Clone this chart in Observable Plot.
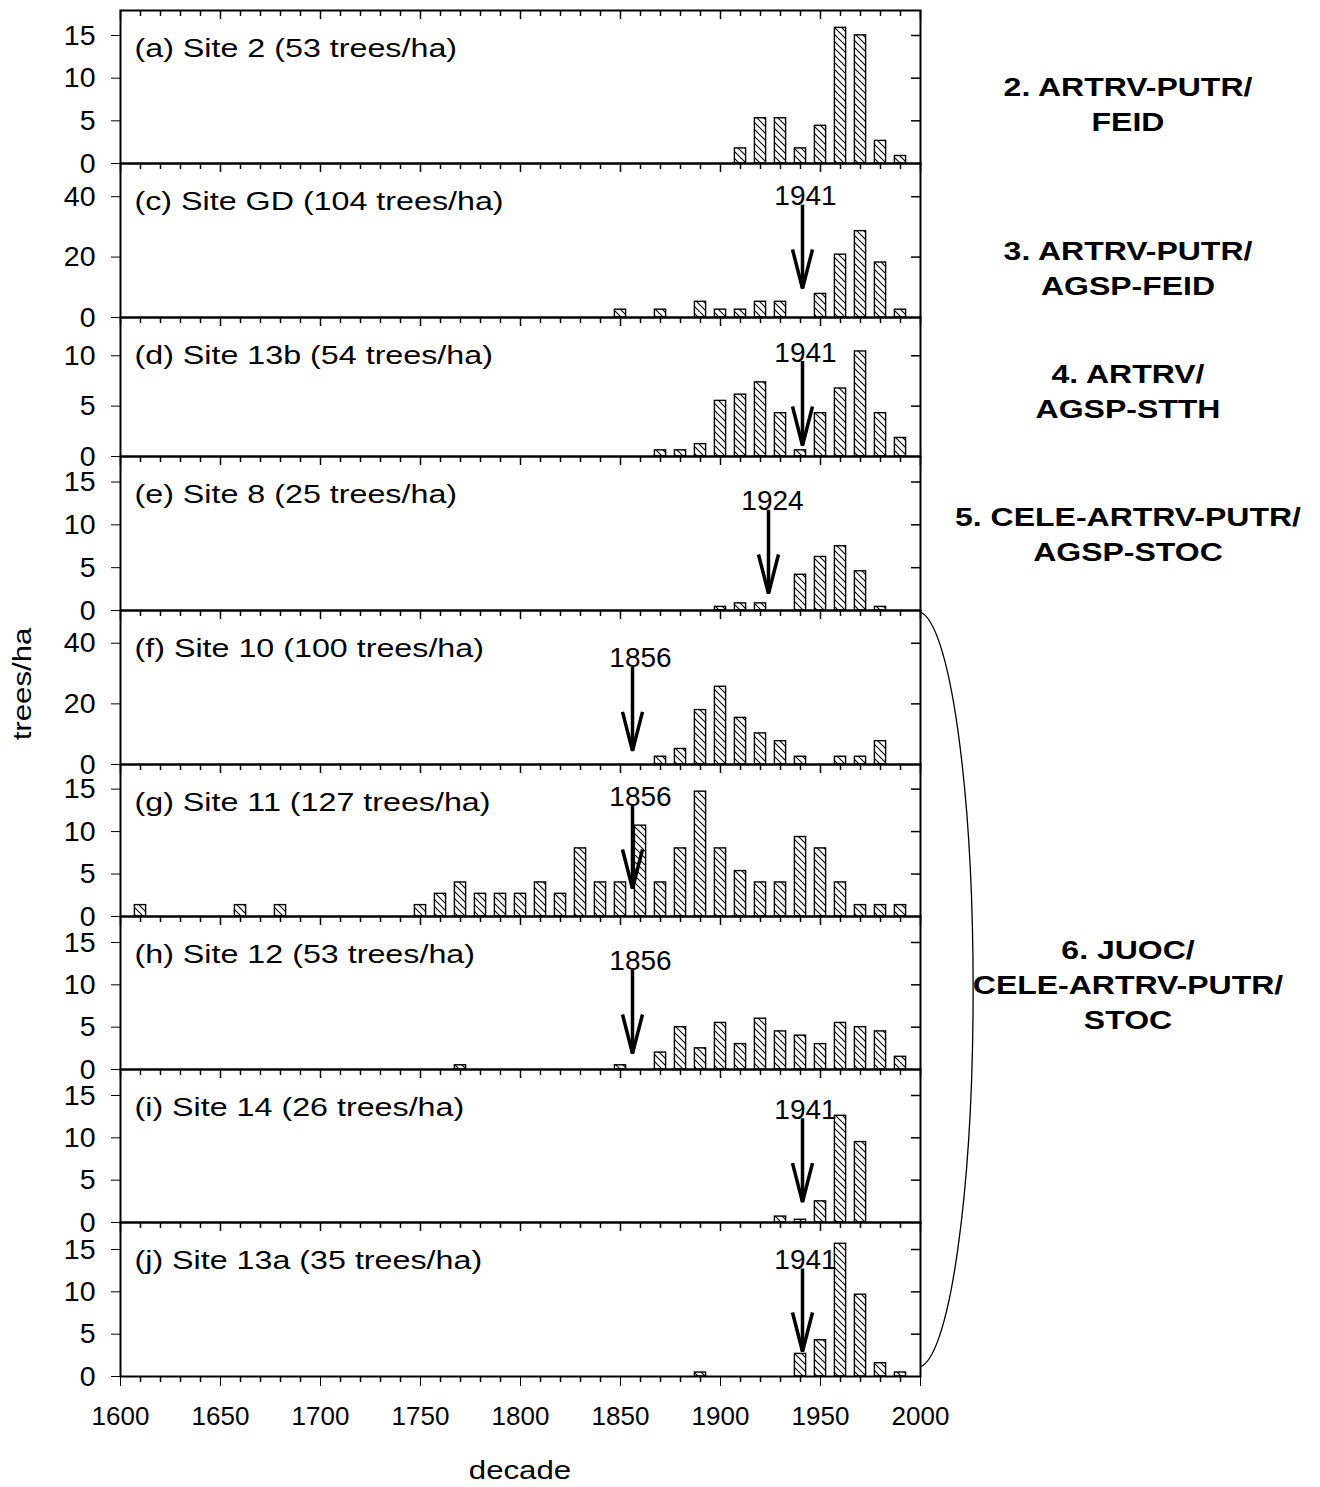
<!DOCTYPE html>
<html><head><meta charset="utf-8">
<script src="https://cdn.jsdelivr.net/npm/d3@7"></script>
<script src="https://cdn.jsdelivr.net/npm/@observablehq/plot@0.6"></script>
<style>
body{margin:0;background:#fff;}
#wrap{position:relative;width:1320px;height:1487px;background:#fff;font-family:"Liberation Sans",Arial,sans-serif;overflow:hidden;color:#000}
.panel{position:absolute;left:0}
.rlab{position:absolute;width:400px;margin-left:-200px;font-weight:bold;font-size:26px;line-height:35px;text-align:center;white-space:nowrap;transform:scaleX(1.23);transform-origin:center;}
.atitle{position:absolute;font-size:26px;white-space:nowrap;}
</style></head><body>
<svg width="0" height="0" style="position:absolute"><defs>
<pattern id="hatch" patternUnits="userSpaceOnUse" width="7" height="7">
<path d="M0,0 L7,7 M6,-1 L8,1 M-1,6 L1,8" stroke="black" stroke-width="1.1" fill="none"/>
</pattern></defs></svg>
<div id="wrap"></div>
<script>
// ---------------- data ----------------
const siteLabels = [
  "(a) Site 2 (53 trees/ha)",
  "(c) Site GD (104 trees/ha)",
  "(d) Site 13b (54 trees/ha)",
  "(e) Site 8 (25 trees/ha)",
  "(f) Site 10 (100 trees/ha)",
  "(g) Site 11 (127 trees/ha)",
  "(h) Site 12 (53 trees/ha)",
  "(i) Site 14 (26 trees/ha)",
  "(j) Site 13a (35 trees/ha)"
];
const decadesA = [1910,1920,1930,1940,1950,1960,1970,1980,1990];
const treesA   = [1.77,5.3,5.3,1.77,4.42,15.9,15.02,2.65,0.88];
const decadesC = [1850,1870,1890,1900,1910,1920,1930,1950,1960,1970,1980,1990];
const treesC   = [2.6,2.6,5.2,2.6,2.6,5.2,5.2,7.8,20.8,28.6,18.2,2.6];
const decadesD = [1870,1880,1890,1900,1910,1920,1930,1940,1950,1960,1970,1980,1990];
const treesD   = [0.61,0.61,1.23,5.52,6.14,7.36,4.3,0.61,4.3,6.75,10.43,4.3,1.84];
const decadesE = [1900,1910,1920,1940,1950,1960,1970,1980];
const treesE   = [0.42,0.83,0.83,4.17,6.25,7.5,4.58,0.42];
const decadesF = [1870,1880,1890,1900,1910,1920,1930,1940,1960,1970,1980];
const treesF   = [2.56,5.13,17.95,25.64,15.38,10.26,7.69,2.56,2.56,2.56,7.69];
const decadesG = [1610,1660,1680,1750,1760,1770,1780,1790,1800,1810,1820,1830,1840,1850,1860,1870,1880,1890,1900,1910,1920,1930,1940,1950,1960,1970,1980,1990];
const treesG   = [1.34,1.34,1.34,1.34,2.67,4.01,2.67,2.67,2.67,4.01,2.67,8.02,4.01,4.01,10.7,4.01,8.02,14.7,8.02,5.35,4.01,4.01,9.36,8.02,4.01,1.34,1.34,1.34];
const decadesH = [1770,1850,1870,1880,1890,1900,1910,1920,1930,1940,1950,1960,1970,1980,1990];
const treesH   = [0.5,0.5,2,5,2.5,5.5,3,6,4.5,4,3,5.5,5,4.5,1.5];
const decadesI = [1930,1940,1950,1960,1970];
const treesI   = [0.7,0.32,2.5,12.6,9.5];
const decadesJ = [1890,1940,1950,1960,1970,1980,1990];
const treesJ   = [0.47,2.67,4.28,15.67,9.66,1.57,0.47];

const yMaxes = [17.93, 51, 13.8, 17.98, 50.8, 17.9, 18.07, 18.07, 18.19];
const yTickSets = [[0,5,10,15],[0,20,40],[0,5,10],[0,5,10,15],[0,20,40],[0,5,10,15],[0,5,10,15],[0,5,10,15],[0,5,10,15]];

// establishment arrows: panel index, year, tip value, tail value, label x (year)
const arrowPanels = [1,2,3,4,5,6,7,8];
const arrowYears  = [1941,1941,1924,1856,1856,1856,1941,1941];
const arrowTips   = [9.6,1.09,1.98,4.5,3.3,1.89,2.4,2.95];
const arrowTails  = [37.2,9.43,11.7,32,13.0,11.7,12.25,12.7];
const labelYears  = [1942.5,1942.5,1926,1860,1860,1860,1942.5,1942.5];

const xTickLabels = [1600,1650,1700,1750,1800,1850,1900,1950,2000];
const groupLabels = [
  ["2. ARTRV-PUTR/","FEID"],
  ["3. ARTRV-PUTR/","AGSP-FEID"],
  ["4. ARTRV/","AGSP-STTH"],
  ["5. CELE-ARTRV-PUTR/","AGSP-STOC"],
  ["6. JUOC/","CELE-ARTRV-PUTR/","STOC"]
];

// ---------------- layout ----------------
const decadeSets = [decadesA,decadesC,decadesD,decadesE,decadesF,decadesG,decadesH,decadesI,decadesJ];
const valueSets  = [treesA,treesC,treesD,treesE,treesF,treesG,treesH,treesI,treesJ];
const panelEdges = [10,163,317,456,610,764,916,1069,1222,1376];
const groupLabelY = [87,251,374,517,950];
const allDecades = d3.range(1600, 2001, 10);
const minorDecades = allDecades.filter(d => d % 50 !== 0);
const majorDecades = allDecades.filter(d => d % 50 === 0);

const arrows = arrowPanels.map((p,i) => ({panel:p, year:arrowYears[i], tip:arrowTips[i], tail:arrowTails[i], lx:labelYears[i]}));
const arrowHead = {draw(ctx){ ctx.moveTo(-10,-39); ctx.lineTo(0,0); ctx.lineTo(10,-39); }};

const wrap = document.getElementById("wrap");
const FONT = "'Liberation Sans', Arial, sans-serif";

function stretch(svg, pred, factor){
  svg.querySelectorAll("text").forEach(t => {
    if (!pred(t)) return;
    const len = t.getComputedTextLength();
    if (len > 0) { t.setAttribute("textLength", len*factor); t.setAttribute("lengthAdjust","spacingAndGlyphs"); }
  });
}

for (let k = 0; k < 9; k++) {
  const last = k === 8;
  const innerH = panelEdges[k+1] - panelEdges[k];
  const innerW = 800;
  const mt = 12, mb = last ? 100 : 12;
  const data = decadeSets[k].map((d,i) => ({decade:d, value:valueSets[k][i]}));
  const arr = arrows.filter(a => a.panel === k);
  const marks = [
    Plot.rect(data, {x1: d => d.decade - 2.8, x2: d => d.decade + 2.8, y1: 0, y2: "value", fill: "url(#hatch)", stroke: "black", strokeWidth: 1.4}),
    Plot.tickX(minorDecades, {x: d => d, insetBottom: innerH - 6, stroke: "black", strokeWidth: 1.5}),
    Plot.tickX(majorDecades, {x: d => d, insetBottom: innerH - 9, stroke: "black", strokeWidth: 1.5}),
    Plot.tickY(yTickSets[k].filter(v => v > 0), {y: d => d, insetLeft: innerW - 9, stroke: "black", strokeWidth: 1.5}),
    Plot.frame({stroke: "black", strokeWidth: 2}),
    Plot.text([siteLabels[k]], {text: d => d, frameAnchor: "top-left", textAnchor: "start", lineAnchor: "top", dx: 14, dy: 28, fontSize: 26, fill: "black"}),
    Plot.ruleX(arr, {x: "year", y1: "tip", y2: "tail", stroke: "black", strokeWidth: 3.5}),
    Plot.dot(arr, {x: "year", y: "tip", symbol: arrowHead, r: 5, stroke: "black", fill: "none", strokeWidth: 3.5}),
    Plot.text(arr, {x: "lx", y: "tail", text: d => String(d.year), lineAnchor: "bottom", fontSize: 28, fill: "black"})
  ];
  if (last) marks.push(Plot.tickX(minorDecades, {x: d => d, insetTop: innerH - 6, dy: 6, stroke: "black", strokeWidth: 1.5}));
  const chart = Plot.plot({
    width: 1000, height: innerH + mt + mb,
    marginLeft: 120, marginRight: 80, marginTop: mt, marginBottom: mb,
    x: last ? {domain: [1600, 2000], ticks: xTickLabels, tickSize: 10, tickPadding: 20, tickFormat: d3.format("d"), label: null}
            : {domain: [1600, 2000], axis: null},
    y: {domain: [0, yMaxes[k]], ticks: yTickSets[k], tickSize: 9, tickPadding: 16, tickFormat: d3.format("d"), label: null},
    style: {fontSize: "26px", fontFamily: FONT, background: "transparent", overflow: "visible", color: "black"},
    marks
  });
  chart.classList.add("panel");
  chart.style.top = (panelEdges[k] - mt) + "px";
  chart.style.position = "absolute";
  chart.style.left = "0px";
  wrap.appendChild(chart);
  // y tick labels are drawn a little larger than the rest
  chart.querySelectorAll("g[aria-label='y-axis tick label'] text, g[aria-label='y-axis'] text").forEach(t => t.setAttribute("font-size", "28.5"));
  stretch(chart, t => t.textContent.startsWith("("), 1.24);
}

// group labels on the right
groupLabels.forEach((lines, i) => {
  const div = document.createElement("div");
  div.className = "rlab";
  div.style.left = "1128px";
  div.style.top = (groupLabelY[i] - 17.5) + "px";
  div.innerHTML = lines.join("<br>");
  wrap.appendChild(div);
});

// axis titles
const yt = document.createElement("div");
yt.className = "atitle";
yt.textContent = "trees/ha";
yt.style.left = "22px"; yt.style.top = "684px";
yt.style.transform = "translate(-50%,-50%) rotate(-90deg) scaleX(1.2)";
wrap.appendChild(yt);
const xt = document.createElement("div");
xt.className = "atitle";
xt.textContent = "decade";
xt.style.left = "520px"; xt.style.top = "1470px";
xt.style.transform = "translate(-50%,-50%) scaleX(1.2)";
wrap.appendChild(xt);

// bracket grouping panels (f)-(j)
const ns = "http://www.w3.org/2000/svg";
const ov = document.createElementNS(ns, "svg");
ov.setAttribute("width", 1320); ov.setAttribute("height", 1487);
ov.style.position = "absolute"; ov.style.left = "0"; ov.style.top = "0"; ov.style.pointerEvents = "none";
const br = document.createElementNS(ns, "path");
br.setAttribute("d", `M920,${panelEdges[4]+2} A56,378 0 0 1 920,${panelEdges[9]-9}`);
br.setAttribute("fill", "none"); br.setAttribute("stroke", "black"); br.setAttribute("stroke-width", "1.3");
ov.appendChild(br);
wrap.appendChild(ov);
</script>
</body></html>
